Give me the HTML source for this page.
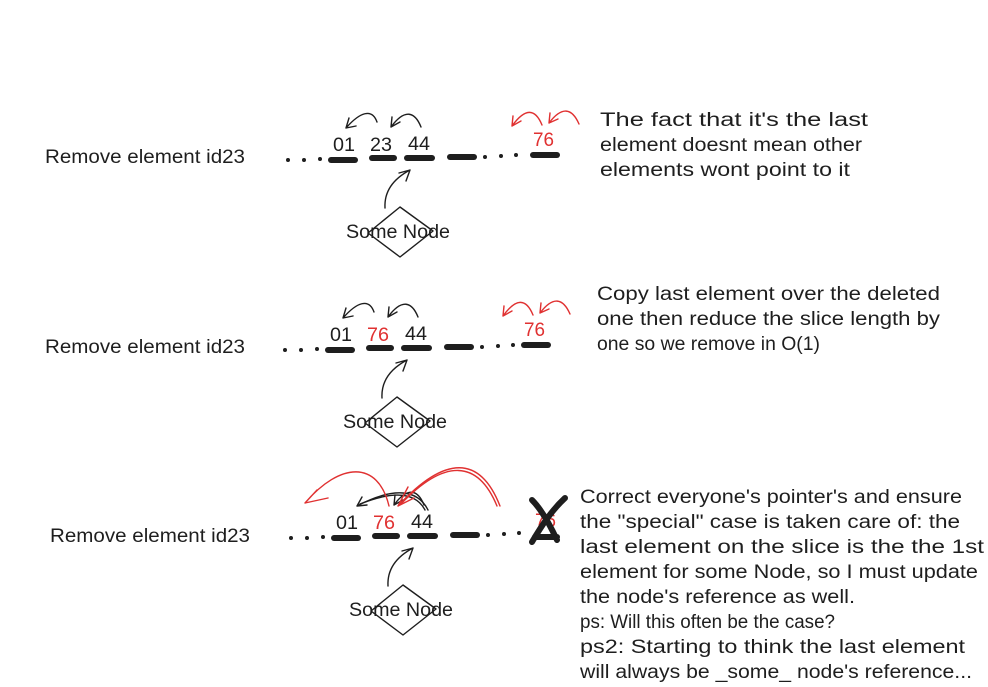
<!DOCTYPE html>
<html><head><meta charset="utf-8"><style>
html,body{margin:0;padding:0;background:#fff;}
svg{display:block;}
text{font-family:"Liberation Sans",sans-serif;font-size:19px;fill:#1e1e1e;}
.r{fill:#e03131;}
.d{stroke:#1e1e1e;stroke-width:6;stroke-linecap:round;}
.a{fill:none;stroke:#1e1e1e;stroke-width:1.4;stroke-linecap:round;stroke-linejoin:round;}
.ar{fill:none;stroke:#e03131;stroke-width:1.4;stroke-linecap:round;stroke-linejoin:round;}
</style></head><body>
<svg width="988" height="687" viewBox="0 0 988 687" xmlns="http://www.w3.org/2000/svg">
<defs>
<g id="base">
  <circle cx="288" cy="160" r="2" fill="#1e1e1e"/>
  <circle cx="304" cy="160" r="2" fill="#1e1e1e"/>
  <circle cx="320" cy="159" r="2" fill="#1e1e1e"/>
  <line class="d" x1="331" y1="160" x2="355" y2="160"/>
  <line class="d" x1="372" y1="158" x2="394" y2="158"/>
  <line class="d" x1="407" y1="158" x2="432" y2="158"/>
  <line class="d" x1="450" y1="157" x2="474" y2="157"/>
  <circle cx="485" cy="157" r="2" fill="#1e1e1e"/>
  <circle cx="501" cy="156" r="2" fill="#1e1e1e"/>
  <circle cx="516" cy="155" r="2" fill="#1e1e1e"/>
  <text x="333" y="151" textLength="22" lengthAdjust="spacingAndGlyphs">01</text>
  <text x="408" y="150" textLength="22" lengthAdjust="spacingAndGlyphs">44</text>
  <path class="a" d="M385 208 C384 190 395 178 410 170 M399 173 L410 170 L406 181"/>
  <path class="a" d="M400 207 L433 231 L400 257 L368 233 Z"/>
  <text x="346" y="238" textLength="104" lengthAdjust="spacingAndGlyphs">Some Node</text>
  <path class="a" d="M421 127 C415 112 405 108 391 127 M391 127 L392 117 M391 127 L400 122"/>
</g>
</defs>

<!-- Row 1 -->
<text x="45" y="163" textLength="200" lengthAdjust="spacingAndGlyphs">Remove element id23</text>
<use href="#base"/>
<text x="370" y="151" textLength="22" lengthAdjust="spacingAndGlyphs">23</text>
<path class="a" d="M377 122 C372 108 360 112 346 128 M346 128 L349 118 M346 128 L356 126"/>
<line class="d" x1="533" y1="155" x2="557" y2="155"/>
<text x="533" y="146" class="r" textLength="21" lengthAdjust="spacingAndGlyphs">76</text>
<path class="ar" d="M542 125 C535 108 525 108 512 126 M512 126 L513 116 M512 126 L521 121"/>
<path class="ar" d="M579 124 C572 108 562 106 549 123 M549 123 L550 113 M549 123 L558 119"/>
<text x="600" y="126" textLength="268" lengthAdjust="spacingAndGlyphs">The fact that it's the last</text>
<text x="600" y="151" textLength="262" lengthAdjust="spacingAndGlyphs">element doesnt mean other</text>
<text x="600" y="176" textLength="250" lengthAdjust="spacingAndGlyphs">elements wont point to it</text>

<!-- Row 2 -->
<text x="45" y="353" textLength="200" lengthAdjust="spacingAndGlyphs">Remove element id23</text>
<g transform="translate(-3,190)"><use href="#base"/>
<text x="370" y="151" class="r" textLength="22" lengthAdjust="spacingAndGlyphs">76</text>
<path class="a" d="M377 122 C372 108 360 112 346 128 M346 128 L349 118 M346 128 L356 126"/>
<line class="d" x1="527" y1="155" x2="551" y2="155"/>
<text x="527" y="146" class="r" textLength="21" lengthAdjust="spacingAndGlyphs">76</text>
<path class="ar" d="M536 125 C529 108 519 108 506 126 M506 126 L507 116 M506 126 L515 121"/>
<path class="ar" d="M573 124 C566 108 556 106 543 123 M543 123 L544 113 M543 123 L552 119"/>
</g>
<text x="597" y="300" textLength="343" lengthAdjust="spacingAndGlyphs">Copy last element over the deleted</text>
<text x="597" y="325" textLength="343" lengthAdjust="spacingAndGlyphs">one then reduce the slice length by</text>
<text x="597" y="350" textLength="223" lengthAdjust="spacingAndGlyphs">one so we remove in O(1)</text>

<!-- Row 3 -->
<text x="50" y="542" textLength="200" lengthAdjust="spacingAndGlyphs">Remove element id23</text>
<g transform="translate(3,378)"><use href="#base"/>
<text x="370" y="151" class="r" textLength="22" lengthAdjust="spacingAndGlyphs">76</text>
</g>
<path class="a" d="M428 510 C418 490 395 486 357 506 M357 506 L362 497 M357 506 L367 505"/>
<path class="a" d="M425 510 C416 493 395 490 360 504"/>
<path class="ar" d="M389 506 C378 460 340 462 305 503 M305 503 L317 490 M305 503 L328 498"/>
<path class="ar" d="M500 506 C480 455 445 455 398 506 M398 506 L408 487 M398 506 L414 498"/>
<path class="ar" d="M497 506 C478 460 445 458 401 504"/>
<line class="d" x1="535" y1="537" x2="557" y2="537"/>
<text x="535" y="527" class="r" textLength="21" lengthAdjust="spacingAndGlyphs">76</text>
<path d="M532 500 C542 510 550 525 557 540" stroke="#1e1e1e" stroke-width="6" fill="none" stroke-linecap="round"/>
<path d="M565 498 C552 510 542 525 532 542" stroke="#1e1e1e" stroke-width="6" fill="none" stroke-linecap="round"/>
<text x="580" y="503" textLength="382" lengthAdjust="spacingAndGlyphs">Correct everyone's pointer's and ensure</text>
<text x="580" y="528" textLength="380" lengthAdjust="spacingAndGlyphs">the "special" case is taken care of: the</text>
<text x="580" y="553" textLength="404" lengthAdjust="spacingAndGlyphs">last element on the slice is the the 1st</text>
<text x="580" y="578" textLength="398" lengthAdjust="spacingAndGlyphs">element for some Node, so I must update</text>
<text x="580" y="603" textLength="275" lengthAdjust="spacingAndGlyphs">the node's reference as well.</text>
<text x="580" y="628" textLength="255" lengthAdjust="spacingAndGlyphs">ps: Will this often be the case?</text>
<text x="580" y="653" textLength="385" lengthAdjust="spacingAndGlyphs">ps2: Starting to think the last element</text>
<text x="580" y="678" textLength="392" lengthAdjust="spacingAndGlyphs">will always be _some_ node's reference...</text>
</svg>
</body></html>
